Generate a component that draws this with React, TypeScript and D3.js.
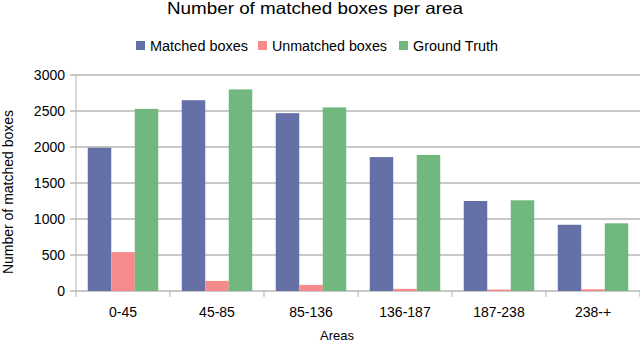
import * as d3 from "d3";

const categories = ["0-45", "45-85", "85-136", "136-187", "187-238", "238-+"];
const seriesNames = ["Matched boxes", "Unmatched boxes", "Ground Truth"];
const matched = [1990, 2650, 2470, 1860, 1250, 920];
const unmatched = [540, 140, 85, 30, 20, 25];
const groundTruth = [2530, 2800, 2550, 1890, 1260, 940];
const yTicks = [0, 500, 1000, 1500, 2000, 2500, 3000];
const colors = ["#6570a6", "#f78a8a", "#71b87f"];

const W = 640;
const H = 343;
const margin = { top: 75, right: 0, bottom: 52, left: 76 };
const font = "'Liberation Sans', Arial, sans-serif";

export default function App() {
  const series = [matched, unmatched, groundTruth];
  const x = d3
    .scaleBand()
    .domain(categories)
    .range([margin.left, W - margin.right])
    .paddingInner(0.25)
    .paddingOuter(0.125);
  const step = x.step();
  const inner = d3
    .scaleBand()
    .domain(seriesNames)
    .range([0, x.bandwidth()]);
  const y = d3
    .scaleLinear()
    .domain([0, 3000])
    .range([H - margin.bottom, margin.top]);
  const y0 = y(0);

  const bars = categories.flatMap((c, i) =>
    series.map((s, k) => (
      <rect
        key={c + k}
        x={x(c)! + inner(seriesNames[k])!}
        y={y(s[i])}
        width={inner.bandwidth()}
        height={y0 - y(s[i])}
        fill={colors[k]}
      />
    ))
  );

  // legend: square x, text width
  const legendItems = [
    { x: 136, w: 98, label: seriesNames[0] },
    { x: 258, w: 115, label: seriesNames[1] },
    { x: 399, w: 85, label: seriesNames[2] },
  ];

  return (
    <svg
      width={W}
      height={H}
      style={{ position: "absolute", left: 0, top: 0, background: "#fff" }}
      fontFamily={font}
    >
      <text
        x={167}
        y={14}
        fontSize={16.5}
        fill="#000"
        textLength={296}
        lengthAdjust="spacingAndGlyphs"
      >
        Number of matched boxes per area
      </text>
      {legendItems.map((d, k) => (
        <g key={d.label}>
          <rect x={d.x} y={41} width={9} height={9} fill={colors[k]} />
          <text
            x={d.x + 14}
            y={51}
            fontSize={14}
            fill="#000"
            textLength={d.w}
            lengthAdjust="spacingAndGlyphs"
          >
            {d.label}
          </text>
        </g>
      ))}
      {yTicks.map((t) => (
        <g key={t}>
          <line
            x1={margin.left - 6}
            x2={W}
            y1={y(t)}
            y2={y(t)}
            stroke="#c8c8c8"
            strokeWidth={2}
          />
          <text
            x={margin.left - 11}
            y={y(t) + 5}
            textAnchor="end"
            fontSize={14}
            fill="#000"
          >
            {t}
          </text>
        </g>
      ))}
      <line
        x1={margin.left}
        x2={margin.left}
        y1={margin.top}
        y2={y0 + 6}
        stroke="#b3b3b3"
        strokeWidth={1}
      />
      {categories.map((c, i) => (
        <g key={c}>
          <line
            x1={margin.left + step * (i + 1)}
            x2={margin.left + step * (i + 1)}
            y1={y0}
            y2={y0 + 6}
            stroke="#b3b3b3"
          />
          <text
            x={x(c)! + x.bandwidth() / 2}
            y={y0 + 26}
            textAnchor="middle"
            fontSize={14}
            fill="#000"
          >
            {c}
          </text>
        </g>
      ))}
      {bars}
      <text x={337} y={340} textAnchor="middle" fontSize={13} fill="#000">
        Areas
      </text>
      <text
        transform="translate(13,192) rotate(-90)"
        textAnchor="middle"
        fontSize={14}
        fill="#000"
      >
        Number of matched boxes
      </text>
    </svg>
  );
}
